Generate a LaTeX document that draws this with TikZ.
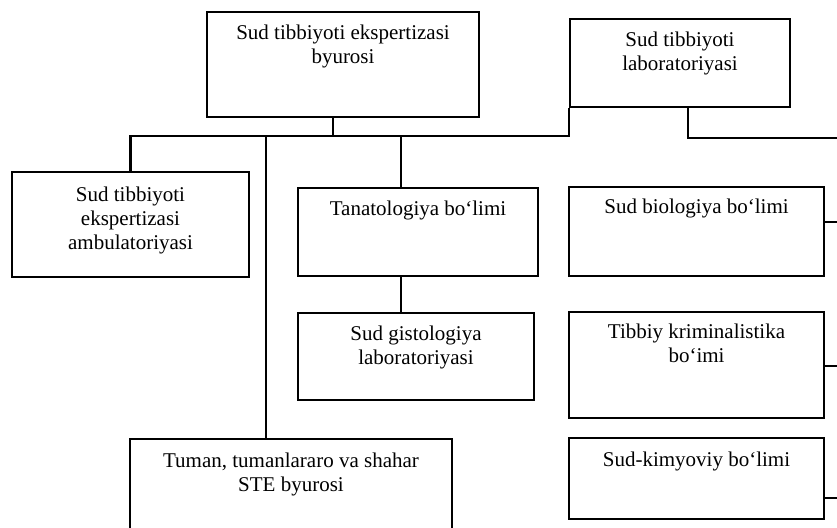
\documentclass[tikz,border=0pt]{standalone}
\usepackage{fontspec}
\setmainfont{Liberation Serif}
\usetikzlibrary{positioning}

\begin{document}
\begin{tikzpicture}[x=1pt,y=-1pt]
\tikzstyle{every node}+=[inner sep=0pt]
\tikzstyle{box}=[draw, line width=2.2pt, rectangle]
\tikzstyle{txt}=[align=center, font=\fontsize{21}{24}\selectfont]
\tikzstyle{wire}=[line width=2.2pt]
\clip (0,0) rectangle (837,527);
% boxes
\node [box, minimum width=272pt, minimum height=105pt] (byuro) at (343,64.5) {};
\node [txt, below=14pt of byuro.north] (byuroT) {Sud tibbiyoti ekspertizasi\\byurosi};
\node [box, minimum width=220pt, minimum height=88pt] (lab) at (680,63) {};
\node [txt, below=14pt of lab.north] (labT) {Sud tibbiyoti\\laboratoriyasi};
\node [box, minimum width=237pt, minimum height=105pt] (amb) at (130.5,224.5) {};
\node [txt, below=16pt of amb.north] (ambT) {Sud tibbiyoti\\ekspertizasi\\ambulatoriyasi};
\node [box, minimum width=240pt, minimum height=88pt] (tana) at (418,232) {};
\node [txt, below=14pt of tana.north] (tanaT) {Tanatologiya bo‘limi};
\node [box, minimum width=236pt, minimum height=87pt] (gist) at (416,356.5) {};
\node [txt, below=14pt of gist.north] (gistT) {Sud gistologiya\\laboratoriyasi};
\node [box, minimum width=322pt, minimum height=106pt] (tuman) at (291,492) {};
\node [txt, below=15pt of tuman.north] (tumanT) {Tuman, tumanlararo va shahar\\STE byurosi};
\node [box, minimum width=255pt, minimum height=89pt] (bio) at (696.5,231.5) {};
\node [txt, below=13pt of bio.north] (bioT) {Sud biologiya bo‘limi};
\node [box, minimum width=255pt, minimum height=106pt] (krim) at (696.5,365) {};
\node [txt, below=13pt of krim.north] (krimT) {Tibbiy kriminalistika\\bo‘imi};
\node [box, minimum width=255pt, minimum height=81pt] (kimyo) at (696.5,478.5) {};
\node [txt, below=15pt of kimyo.north] (kimyoT) {Sud-kimyoviy bo‘limi};
% connectors
\coordinate (bus) at (0,136);
\coordinate (rbus) at (0,138);
\coordinate (edge) at (850,0);
\draw [wire] ([xshift=-10pt]byuro.south) -- ([xshift=-10pt]byuro.south |- bus);
\draw [wire] (lab.south west) -- (lab.south west |- bus) -- (amb.north |- bus) -- (amb.north);
\draw [wire] ([xshift=-17pt]tana.north) -- ([xshift=-17pt]tana.north |- bus);
\draw [wire] ([xshift=-17pt]tana.south) -- ([xshift=-17pt]tana.south |- gist.north);
\draw [wire] ([xshift=-25pt]tuman.north) -- ([xshift=-25pt]tuman.north |- bus);
\draw [wire] ([xshift=8pt]lab.south) |- (edge |- rbus);
\draw [wire] ([yshift=9.5pt]bio.east) -- ++(30,0);
\draw [wire] ([yshift=-1pt]krim.east) -- ++(30,0);
\draw [wire] ([yshift=-19.5pt]kimyo.east) -- ++(30,0);
\end{tikzpicture}
\end{document}
